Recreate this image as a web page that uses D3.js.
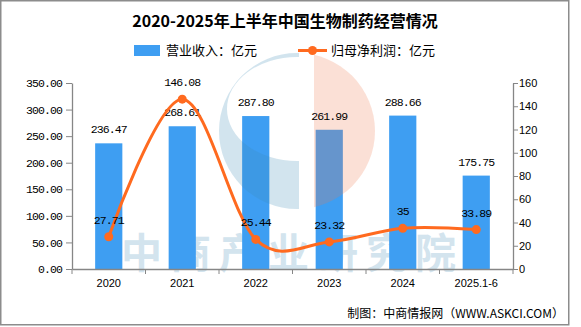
<!DOCTYPE html>
<html>
<head>
<meta charset="utf-8">
<script src="https://cdn.jsdelivr.net/npm/d3@7/dist/d3.min.js"></script>
<style>
  body { margin: 0; background: #fff; }
  svg { display: block; }
</style>
</head>
<body>
<svg id="chart" width="581" height="327"></svg>
<script>
// 2020–2025H1 China biopharma: revenue (bars, left axis) and net profit attributable to parent (line, right axis)
const categories = ["2020", "2021", "2022", "2023", "2024", "2025.1-6"];
const revenue = [236.47, 268.61, 287.80, 261.99, 288.66, 175.75];
const revenueLabels = ["236.47", "268.61", "287.80", "261.99", "288.66", "175.75"];
const profit = [27.71, 146.08, 25.44, 23.32, 35, 33.89];
const profitLabels = ["27.71", "146.08", "25.44", "23.32", "35", "33.89"];
const leftTicks = [0, 50, 100, 150, 200, 250, 300, 350];
const rightTicks = [0, 20, 40, 60, 80, 100, 120, 140, 160];

const BAR = "#3e9ef2", LINE = "#ff6a1f", AXIS = "#868686";
const MONO = "'Liberation Mono', 'DejaVu Sans Mono', monospace";
const CJK = "'Noto Sans CJK SC', 'Noto Sans', sans-serif";

const svg = d3.select("#chart");
const plot = { left: 72, right: 513, top: 83, bottom: 269 };

// frame
svg.append("rect").attr("x", 0.75).attr("y", 0.75).attr("width", 568).attr("height", 324)
  .attr("fill", "#fff").attr("stroke", "#8c8c8c").attr("stroke-width", 1.5);

const x = d3.scaleBand().domain(categories).range([plot.left, plot.right]).padding(0);
const yL = d3.scaleLinear().domain([0, 350]).range([plot.bottom, plot.top]);
const yR = d3.scaleLinear().domain([0, 160]).range([plot.bottom, plot.top]);
const cx = d => x(d) + x.bandwidth() / 2;
const barW = x.bandwidth() * 0.37;

// title
svg.append("text").attr("x", 285).attr("y", 27).attr("text-anchor", "middle")
  .attr("font-family", CJK).attr("font-weight", "bold").attr("font-size", 16).attr("fill", "#000")
  .text("2020-2025年上半年中国生物制药经营情况");

// legend
const lg = svg.append("g").attr("font-family", CJK).attr("font-size", 13).attr("fill", "#000");
lg.append("rect").attr("x", 134).attr("y", 45).attr("width", 26).attr("height", 11).attr("fill", BAR);
lg.append("text").attr("x", 166).attr("y", 55).text("营业收入：亿元");
lg.append("line").attr("x1", 298).attr("x2", 327).attr("y1", 50.5).attr("y2", 50.5)
  .attr("stroke", LINE).attr("stroke-width", 3);
lg.append("circle").attr("cx", 312.5).attr("cy", 50.5).attr("r", 4.5).attr("fill", LINE);
lg.append("text").attr("x", 331).attr("y", 55).text("归母净利润：亿元");

// watermark text (behind the bars)
svg.append("text").attr("x", 121).attr("y", 268)
  .attr("font-family", CJK).attr("font-weight", "bold").attr("font-size", 41)
  .attr("letter-spacing", 8).attr("fill", "#d3e4ee")
  .text("中商产业研究院");

// bars
svg.append("g").selectAll("rect").data(categories).join("rect")
  .attr("x", d => cx(d) - barW / 2)
  .attr("width", barW)
  .attr("y", (d, i) => yL(revenue[i]))
  .attr("height", (d, i) => yL(0) - yL(revenue[i]))
  .attr("fill", BAR);

// watermark logo (translucent, over the bars)
const defs = svg.append("defs");
defs.append("clipPath").attr("id", "leftHalf").append("rect")
  .attr("x", 200).attr("y", 30).attr("width", 99).attr("height", 200);
defs.append("clipPath").attr("id", "rightHalf").append("rect")
  .attr("x", 314).attr("y", 30).attr("width", 100).attr("height", 200);
const lcx = 297, lcy = 131, lr = 78;
const ring = d3.path();
ring.arc(lcx, lcy, lr, 0, Math.PI * 2);
ring.closePath();
const hole = `M ${lcx + 70} ${lcy - 22} A 70 52 0 1 0 ${lcx - 70} ${lcy - 22} A 70 52 0 1 0 ${lcx + 70} ${lcy - 22} Z`;
svg.append("path").attr("d", ring.toString() + hole).attr("fill-rule", "evenodd")
  .attr("clip-path", "url(#leftHalf)").attr("fill", "#3d8bb7").attr("opacity", 0.23);
const disk = d3.path();
disk.arc(lcx, lcy, lr, 0, Math.PI * 2);
svg.append("path").attr("d", disk.toString()).attr("clip-path", "url(#rightHalf)")
  .attr("fill", "#ed784e").attr("opacity", 0.23);

// left axis
const axL = svg.append("g").attr("transform", `translate(${plot.left},0)`)
  .call(d3.axisLeft(yL).tickValues(leftTicks).tickFormat(d3.format(".2f")).tickSize(6).tickSizeOuter(0).tickPadding(4));
// right axis
const axR = svg.append("g").attr("transform", `translate(${plot.right},0)`)
  .call(d3.axisRight(yR).tickValues(rightTicks).tickSize(5).tickSizeOuter(0).tickPadding(1));
// bottom axis: labels at band centres, ticks at band boundaries
const axB = svg.append("g").attr("transform", `translate(0,${plot.bottom})`)
  .call(d3.axisBottom(x).tickSize(0).tickPadding(10));
const edges = categories.map(d => x(d)).concat([x.range()[1]]);
axB.selectAll("line.edge").data(edges).join("line").attr("class", "edge")
  .attr("x1", d => d).attr("x2", d => d).attr("y1", 0).attr("y2", 5).attr("stroke", AXIS);

[axL, axR, axB].forEach(g => {
  g.selectAll("path.domain").attr("stroke", AXIS).attr("stroke-width", 1.3);
  g.selectAll(".tick line").attr("stroke", AXIS);
  g.selectAll("text").attr("fill", "#000");
});
axL.selectAll("text").attr("font-family", MONO).attr("font-size", 11.5).attr("letter-spacing", -0.9);
axR.selectAll("text").attr("font-family", "'Liberation Sans', Arial, sans-serif").attr("font-size", 11);
axB.selectAll("text").attr("font-family", "'Liberation Sans', Arial, sans-serif").attr("font-size", 11);

// bar value labels
svg.append("g").selectAll("text").data(categories).join("text")
  .attr("x", d => cx(d)).attr("y", (d, i) => yL(revenue[i]) - 10)
  .attr("text-anchor", "middle").attr("font-family", MONO).attr("font-size", 11.5)
  .attr("letter-spacing", -0.9).attr("fill", "#000")
  .text((d, i) => revenueLabels[i]);

// profit line
const line = d3.line().x(d => cx(d)).y((d, i) => yR(profit[i])).curve(d3.curveCardinal.tension(0));
svg.append("path").datum(categories).attr("d", line)
  .attr("fill", "none").attr("stroke", LINE).attr("stroke-width", 3).attr("stroke-linecap", "round");
svg.append("g").selectAll("circle").data(categories).join("circle")
  .attr("cx", d => cx(d)).attr("cy", (d, i) => yR(profit[i])).attr("r", 4.5).attr("fill", LINE);

// profit labels
svg.append("g").selectAll("text").data(categories).join("text")
  .attr("x", d => cx(d)).attr("y", (d, i) => yR(profit[i]) - 13)
  .attr("text-anchor", "middle").attr("font-family", MONO).attr("font-size", 11.5)
  .attr("letter-spacing", -0.9).attr("fill", "#000")
  .text((d, i) => profitLabels[i]);

// source
svg.append("text").attr("x", 564).attr("y", 318).attr("text-anchor", "end")
  .attr("font-family", CJK).attr("font-size", 12).attr("fill", "#000")
  .text("制图：中商情报网（WWW.ASKCI.COM）");
</script>
</body>
</html>
